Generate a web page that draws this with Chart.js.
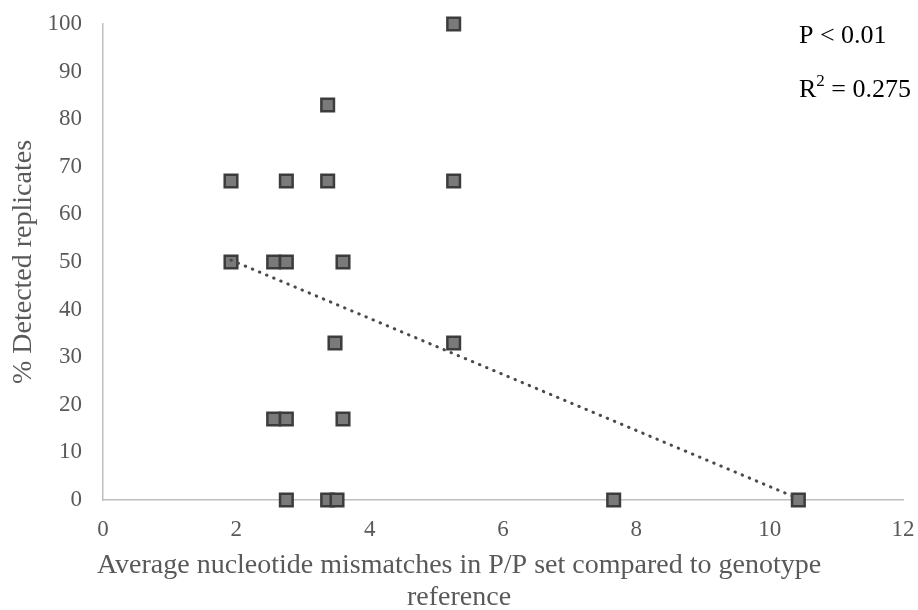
<!DOCTYPE html>
<html>
<head>
<meta charset="utf-8">
<script src="https://cdn.jsdelivr.net/npm/chart.js@4.4.1/dist/chart.umd.min.js"></script>
<style>
  html, body { margin: 0; padding: 0; background: #fff; }
  #wrap { width: 918px; height: 610px; }
</style>
</head>
<body>
<div id="wrap"><canvas id="mismatchChart" width="918" height="610"></canvas></div>
<script>
// Detection rate vs. average primer/probe mismatches
const mismatchX = [5.26, 3.37, 1.92, 2.75, 3.37, 5.26, 1.92, 2.56, 2.75, 3.6, 3.48, 5.26, 2.56, 2.75, 3.6, 2.75, 3.37, 3.51, 7.66, 10.43];
const detectedY = [100, 83, 67, 67, 67, 67, 50, 50, 50, 50, 33, 33, 17, 17, 17, 0, 0, 0, 0, 0];

// Linear trend line end points
const trendX = [1.92, 10.43];
const trendY = [50.4, 0.3];

const xTicks = [0, 2, 4, 6, 8, 10, 12];
const yTicks = [0, 10, 20, 30, 40, 50, 60, 70, 80, 90, 100];

const xTitle = ['Average nucleotide mismatches in P/P set compared to genotype', 'reference'];
const yTitle = '% Detected replicates';
const pText = 'P < 0.01';
const r2Text = ['R', '2', ' = 0.275'];

const serif = '"Liberation Serif", "Times New Roman", serif';
const grey = '#595959';

// Axis titles and the stats note
const textPlugin = {
    id: 'chartText',
    afterDraw(chart) {
        const c = chart.ctx;
        c.save();
        c.fillStyle = grey;
        c.font = '28px ' + serif;
        c.textAlign = 'center';
        c.textBaseline = 'alphabetic';
        c.fillText(xTitle[0], 459, 573);
        c.fillText(xTitle[1], 459, 605);

        c.translate(24, 262);
        c.rotate(-Math.PI / 2);
        c.textBaseline = 'middle';
        c.fillText(yTitle, 0, 0);
        c.restore();

        c.save();
        c.fillStyle = '#000';
        c.textAlign = 'left';
        c.textBaseline = 'alphabetic';
        c.font = '26px ' + serif;
        c.fillText(pText, 799, 43);
        let x = 799;
        c.fillText(r2Text[0], x, 97);
        x += c.measureText(r2Text[0]).width;
        c.font = '17px ' + serif;
        c.fillText(r2Text[1], x, 86);
        x += c.measureText(r2Text[1]).width;
        c.font = '26px ' + serif;
        c.fillText(r2Text[2], x, 97);
        c.restore();
    }
};

const ctx = document.getElementById('mismatchChart').getContext('2d');
const points = mismatchX.map((x, i) => ({ x: x, y: detectedY[i] }));
const trend = trendX.map((x, i) => ({ x: x, y: trendY[i] }));

new Chart(ctx, {
    type: 'scatter',
    data: {
        datasets: [
            {
                // dotted trend line sits on top of the markers
                type: 'line',
                data: trend,
                borderColor: '#4a4a4a',
                borderWidth: 3,
                borderDash: [0.5, 7.2],
                borderCapStyle: 'round',
                pointRadius: 0,
                fill: false,
                clip: false,
                order: 0
            },
            {
                data: points,
                pointStyle: 'rect',
                pointRadius: 8.9,
                pointHoverRadius: 8.9,
                backgroundColor: '#7a7a7a',
                borderColor: '#3c3c3c',
                borderWidth: 2.5,
                clip: false,
                order: 1
            }
        ]
    },
    options: {
        responsive: false,
        animation: false,
        layout: { padding: { top: 24, right: 15, left: 0, bottom: 0 } },
        plugins: {
            legend: { display: false },
            tooltip: { enabled: false }
        },
        scales: {
            x: {
                type: 'linear',
                min: 0,
                max: 12,
                afterFit: s => {
                    s.height = 110;
                    s.paddingLeft = 0;
                    s.paddingRight = 0;
                },
                afterBuildTicks: s => { s.ticks = xTicks.map(v => ({ value: v })); },
                grid: { display: false, drawTicks: false },
                border: { display: true, color: '#bfbfbf', width: 1.5 },
                ticks: { color: grey, padding: 16, font: { family: serif, size: 23 }, maxRotation: 0 }
            },
            y: {
                type: 'linear',
                min: 0,
                max: 100,
                afterFit: s => {
                    s.width = 103;
                    s.paddingTop = 0;
                    s.paddingBottom = 0;
                },
                afterBuildTicks: s => { s.ticks = yTicks.map(v => ({ value: v })); },
                grid: { display: false, drawTicks: false },
                border: { display: true, color: '#bfbfbf', width: 1.5 },
                ticks: { color: grey, padding: 21, font: { family: serif, size: 23 } }
            }
        }
    },
    plugins: [textPlugin]
});
</script>
</body>
</html>
